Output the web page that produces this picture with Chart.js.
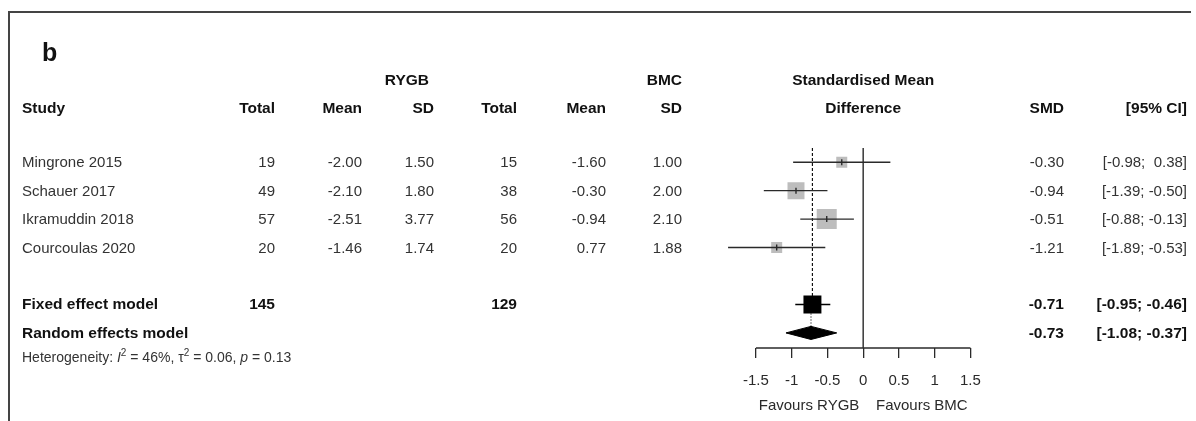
<!DOCTYPE html>
<html>
<head>
<meta charset="utf-8">
<title>Forest plot - RYGB vs BMC</title>
<script src="https://cdn.jsdelivr.net/npm/chart.js@4/dist/chart.umd.min.js"></script>
<style>
  html, body { margin: 0; padding: 0; background: #fff; }
  #wrap { position: relative; width: 1196px; height: 421px; overflow: hidden;
          font-family: "Liberation Sans", Arial, sans-serif; color: #333; }
  #frame { position: absolute; left: 8px; top: 11px; width: 1181px; height: 420px;
           border-top: 2px solid #444; border-left: 2px solid #444; }
  #forest { position: absolute; left: 0; top: 0; }
  .t { position: absolute; font-size: 15px; line-height: 18px; white-space: pre; }
  .b { font-weight: bold; color: #111; font-size: 15.5px; }
  .het { font-size: 14px; }
  .het sup { font-size: 10px; line-height: 0; vertical-align: 6px; }
  .panel { font-size: 25px; line-height: 30px; font-weight: bold; color: #111; }
</style>
</head>
<body>
<div id="wrap">
  <div id="frame"></div>
  <canvas id="forest" width="1196" height="421"></canvas>
</div>
<script>
// ---- data ----
const studies    = ['Mingrone 2015', 'Schauer 2017', 'Ikramuddin 2018', 'Courcoulas 2020'];
const rygbTotal  = [19, 49, 57, 20];
const rygbMean   = [-2.00, -2.10, -2.51, -1.46];
const rygbSD     = [1.50, 1.80, 3.77, 1.74];
const bmcTotal   = [15, 38, 56, 20];
const bmcMean    = [-1.60, -0.30, -0.94, 0.77];
const bmcSD      = [1.00, 2.00, 2.10, 1.88];
const smd        = [-0.30, -0.94, -0.51, -1.21];
const ciLow      = [-0.98, -1.39, -0.88, -1.89];
const ciHigh     = [0.38, -0.50, -0.13, -0.53];
const studyWeight = [13, 31, 43, 13];   // % weight, estimated from the square sizes

const pooledLabels    = ['Fixed effect model', 'Random effects model'];
const pooledRygbTotal = [145, null];
const pooledBmcTotal  = [129, null];
const pooledSmd       = [-0.71, -0.73];
const pooledLow       = [-0.95, -1.08];
const pooledHigh      = [-0.46, -0.37];

const hetI2 = 46, hetTau2 = 0.06, hetP = 0.13;
const xTicks = [-1.5, -1, -0.5, 0, 0.5, 1, 1.5];
const axisTitle = 'Favours RYGB    Favours BMC';

// ---- layout ----
const studyRows  = studies.map((_, i) => i + 1);
const pooledRows = [6, 7];
const Y_MIN = 0.5, Y_MAX = 7.53;
const ROW_GROUP = -1.9, ROW_HEAD = -0.9, ROW_HET = 7.85;
const COL = { study: 22, rTotal: 275, rMean: 362, rSD: 434, rGroup: 429, bTotal: 517, bMean: 606, bSD: 682, smd: 1064, ci: 1187 };
const FONT = '"Liberation Sans", Arial, sans-serif';
const INK = '#2a2a2a';

const fmt2 = v => v.toFixed(2);
const fmtCi = v => (v >= 0 ? ' ' : '') + v.toFixed(2);
const ciText = (lo, hi) => '[' + fmtCi(lo) + '; ' + fmtCi(hi) + ']';
const squareRadius = w => 3.05 * Math.sqrt(w) / Math.SQRT2;

const seg = (x1, y1, x2, y2) => [{ x: x1, y: y1 }, { x: x2, y: y2 }];

const datasets = [];

// vertical line of no effect
datasets.push({ type: 'line', data: seg(0, Y_MIN, 0, Y_MAX), borderColor: '#444', borderWidth: 1.6,
  pointRadius: 0, order: 9 });

// fixed effect (dashed) and random effects (dotted) reference lines
datasets.push({ type: 'line', data: seg(pooledSmd[0], Y_MIN, pooledSmd[0], pooledRows[0]), borderColor: '#111',
  borderWidth: 1.2, borderDash: [3, 2], pointRadius: 0, order: 8 });
datasets.push({ type: 'line', data: seg(pooledSmd[1], pooledRows[0], pooledSmd[1], pooledRows[1]), borderColor: '#111',
  borderWidth: 1.2, borderDash: [1, 2], pointRadius: 0, order: 8 });

// study squares
datasets.push({ type: 'scatter', data: smd.map((v, i) => ({ x: v, y: studyRows[i] })),
  pointStyle: 'rect', pointRadius: c => squareRadius(studyWeight[c.dataIndex]),
  backgroundColor: '#bdbdbd', borderWidth: 0, order: 6 });

// study confidence intervals
studies.forEach((s, i) => {
  datasets.push({ type: 'line', data: seg(ciLow[i], studyRows[i], ciHigh[i], studyRows[i]),
    borderColor: INK, borderWidth: 1.4, pointRadius: 0, order: 5 });
});

// small vertical marks at each estimate
datasets.push({ type: 'scatter', data: smd.map((v, i) => ({ x: v, y: studyRows[i] })),
  pointStyle: 'line', rotation: 90, pointRadius: 3, borderColor: INK, borderWidth: 1.4, order: 4 });

// fixed effect square + CI
datasets.push({ type: 'line', data: seg(pooledLow[0], pooledRows[0], pooledHigh[0], pooledRows[0]),
  borderColor: '#000', borderWidth: 1.4, pointRadius: 0, order: 4 });
datasets.push({ type: 'scatter', data: [{ x: pooledSmd[0], y: pooledRows[0] }],
  pointStyle: 'rect', pointRadius: 12.7, backgroundColor: '#000', borderWidth: 0, order: 3 });

// random effects diamond (two halves filled to the row line)
const dh = 0.23;
[-dh, dh].forEach(d => {
  datasets.push({ type: 'line',
    data: [{ x: pooledLow[1], y: pooledRows[1] }, { x: pooledSmd[1], y: pooledRows[1] + d }, { x: pooledHigh[1], y: pooledRows[1] }],
    borderColor: '#000', borderWidth: 1, backgroundColor: '#000', fill: { value: pooledRows[1] },
    pointRadius: 0, order: 2 });
});

// axis line, only between the outer ticks
datasets.push({ type: 'line', data: seg(xTicks[0], Y_MAX, xTicks[xTicks.length - 1], Y_MAX),
  borderColor: INK, borderWidth: 1.3, pointRadius: 0, clip: false, order: 1 });

const chart = new Chart(document.getElementById('forest'), {
  type: 'scatter',
  data: { datasets },
  options: {
    responsive: false,
    animation: false,
    events: [],
    layout: { padding: { left: 720.2, right: 1196 - 1006.2, top: 148, bottom: 0 } },
    plugins: { legend: { display: false }, tooltip: { enabled: false } },
    scales: {
      x: {
        type: 'linear', min: -2, max: 2,
        afterBuildTicks: s => { s.ticks = xTicks.map(v => ({ value: v })); },
        afterFit: s => { s.height = 73; },
        border: { display: false },
        grid: { drawOnChartArea: false, drawTicks: true, tickLength: 10, color: INK, lineWidth: 1.3 },
        ticks: { font: { size: 15, family: FONT }, color: INK, padding: 14, maxRotation: 0, autoSkip: false,
                 callback: v => String(v) },
        title: { display: true, text: axisTitle, font: { size: 15, family: FONT }, color: INK,
                 padding: { top: 0, bottom: 6 } }
      },
      y: { type: 'linear', reverse: true, min: Y_MIN, max: Y_MAX, display: false }
    }
  }
});

// ---- table text, placed on the chart's row positions ----
const wrap = document.getElementById('wrap');
const yAt = r => chart.scales.y.getPixelForValue(r);
const midX = (chart.chartArea.left + chart.chartArea.right) / 2;

function put(text, x, y, align, cls, html) {
  const d = document.createElement('div');
  d.className = 't' + (cls ? ' ' + cls : '');
  if (html) d.innerHTML = text; else d.textContent = text;
  if (align === 'right') { d.style.left = (x - 300) + 'px'; d.style.width = '300px'; d.style.textAlign = 'right'; }
  else if (align === 'center') { d.style.left = (x - 150) + 'px'; d.style.width = '300px'; d.style.textAlign = 'center'; }
  else d.style.left = x + 'px';
  d.style.top = (y - 9) + 'px';
  wrap.appendChild(d);
}

const panel = document.createElement('div');
panel.className = 't panel';
panel.textContent = 'b';
panel.style.left = '42px';
panel.style.top = '37px';
wrap.appendChild(panel);

const g = yAt(ROW_GROUP), h = yAt(ROW_HEAD);
put('RYGB', COL.rGroup, g, 'right', 'b');
put('BMC', COL.bSD, g, 'right', 'b');
put('Standardised Mean', midX, g, 'center', 'b');
put('Study', COL.study, h, 'left', 'b');
put('Total', COL.rTotal, h, 'right', 'b');
put('Mean', COL.rMean, h, 'right', 'b');
put('SD', COL.rSD, h, 'right', 'b');
put('Total', COL.bTotal, h, 'right', 'b');
put('Mean', COL.bMean, h, 'right', 'b');
put('SD', COL.bSD, h, 'right', 'b');
put('Difference', midX, h, 'center', 'b');
put('SMD', COL.smd, h, 'right', 'b');
put('[95% CI]', COL.ci, h, 'right', 'b');

studies.forEach((s, i) => {
  const y = yAt(studyRows[i]);
  put(s, COL.study, y, 'left');
  put(String(rygbTotal[i]), COL.rTotal, y, 'right');
  put(fmt2(rygbMean[i]), COL.rMean, y, 'right');
  put(fmt2(rygbSD[i]), COL.rSD, y, 'right');
  put(String(bmcTotal[i]), COL.bTotal, y, 'right');
  put(fmt2(bmcMean[i]), COL.bMean, y, 'right');
  put(fmt2(bmcSD[i]), COL.bSD, y, 'right');
  put(fmt2(smd[i]), COL.smd, y, 'right');
  put(ciText(ciLow[i], ciHigh[i]), COL.ci, y, 'right');
});

pooledLabels.forEach((s, i) => {
  const y = yAt(pooledRows[i]);
  put(s, COL.study, y, 'left', 'b');
  if (pooledRygbTotal[i] != null) put(String(pooledRygbTotal[i]), COL.rTotal, y, 'right', 'b');
  if (pooledBmcTotal[i] != null) put(String(pooledBmcTotal[i]), COL.bTotal, y, 'right', 'b');
  put(fmt2(pooledSmd[i]), COL.smd, y, 'right', 'b');
  put(ciText(pooledLow[i], pooledHigh[i]), COL.ci, y, 'right', 'b');
});

put('Heterogeneity: <i>I</i><sup>2</sup> = ' + hetI2 + '%, \u03c4<sup>2</sup> = ' + hetTau2.toFixed(2) +
    ', <i>p</i> = ' + hetP.toFixed(2), COL.study, yAt(ROW_HET), 'left', 'het', true);
</script>
</body>
</html>
